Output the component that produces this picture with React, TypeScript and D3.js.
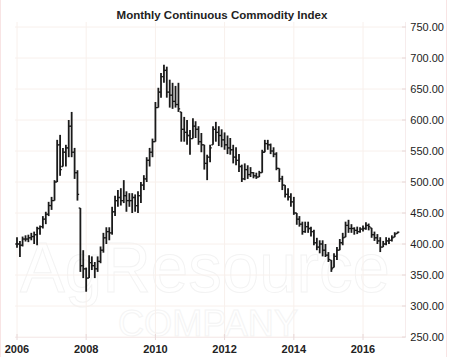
import React from "react";
import * as d3 from "d3";

const title = "Monthly Continuous Commodity Index";
const yTicks = [250, 300, 350, 400, 450, 500, 550, 600, 650, 700, 750];
const xTickYears = [2006, 2008, 2010, 2012, 2014, 2016];
const startYear = 2006;

const highs = [
  411, 405, 412, 414, 415, 418, 420, 428, 430, 445, 452, 468,
  476, 503, 568, 576, 555, 560, 600, 613, 555, 519, 458, 390,
  362, 382, 380, 371, 380, 396, 418, 427, 427, 460, 478, 487,
  490, 503, 485, 482, 482, 480, 485, 500, 511, 540, 555, 570,
  629, 652, 676, 689, 686, 665, 660, 655, 660, 613, 605, 600,
  584, 603, 598, 590, 579, 560, 544, 560, 590, 597, 590, 585,
  580, 575, 571, 560, 556, 545, 528, 530, 527, 524, 516, 515,
  518, 552, 568, 568, 562, 556, 548, 522, 510, 495, 490, 482,
  476, 450, 445, 436, 436, 436, 428, 423, 410, 406, 406, 400,
  387, 374, 385, 395, 408, 418, 436, 439, 432, 427, 428, 427,
  430, 435, 433, 426, 420, 416, 411, 405, 411, 410, 414, 419, 420,
];
const lows = [
  394, 379, 396, 404, 403, 406, 400, 398, 415, 425, 432, 445,
  455, 470, 500, 510, 525, 525, 540, 540, 505, 470, 355, 345,
  323, 345, 358, 345, 355, 369, 386, 400, 406, 415, 445, 460,
  462, 466, 452, 460, 450, 452, 450, 466, 487, 500, 525, 540,
  565, 620, 636, 660, 636, 620, 618, 620, 613, 565, 565, 560,
  544, 570, 571, 560, 548, 520, 503, 532, 560, 565, 558, 556,
  552, 545, 544, 530, 527, 516, 500, 503, 505, 508, 506, 505,
  508, 515, 548, 552, 545, 540, 519, 500, 487, 475, 470, 460,
  447, 431, 428, 415, 418, 418, 412, 398, 390, 385, 380, 379,
  371, 355, 362, 374, 390, 398, 411, 418, 418, 415, 416, 418,
  420, 423, 422, 410, 405, 400, 387, 395, 398, 400, 404, 411, 417,
];
const closes = [
  400, 398, 408, 408, 410, 412, 415, 425, 428, 440, 448, 462,
  470, 500, 560, 520, 548, 555, 590, 548, 515, 480, 365, 360,
  345, 370, 365, 360, 372, 390, 410, 420, 418, 452, 470, 475,
  470, 478, 470, 470, 475, 462, 478, 495, 505, 535, 548, 565,
  620, 645, 670, 680, 645, 640, 630, 625, 618, 585, 580, 575,
  570, 590, 585, 565, 560, 530, 540, 555, 585, 580, 575, 568,
  560, 555, 552, 540, 535, 525, 505, 520, 512, 515, 510, 508,
  515, 548, 562, 560, 550, 545, 522, 505, 495, 480, 476, 468,
  450, 440, 432, 420, 428, 425, 420, 402, 395, 400, 390, 382,
  375, 360, 380, 390, 402, 410, 430, 425, 425, 422, 420, 424,
  425, 430, 428, 415, 410, 405, 395, 400, 405, 406, 410, 416, 419,
];

const W = 450;
const H = 357;
const font = "Arial, 'Liberation Sans', Helvetica, sans-serif";

export default function App() {
  const x = d3
    .scaleTime()
    .domain([new Date(2006, 0, 1), new Date(2016, 0, 1)])
    .range([17, 363]);
  const y = d3.scaleLinear().domain([250, 750]).range([337, 27]);

  const bars = highs.map((h, i) => {
    const l = lows[i];
    const c = closes[i];
    const prev = i === 0 ? closes[0] : closes[i - 1];
    const o = Math.max(l, Math.min(h, prev));
    return { date: new Date(startYear, i, 1), h, l, o, c };
  });

  const gridColor = "#f8f0ec";
  const plotLeft = 15;
  const plotRight = 405;

  return (
    <svg
      width={W}
      height={H}
      style={{ position: "absolute", left: 0, top: 0, background: "#fff" }}
      fontFamily={font}
    >
      <rect x={0} y={0} width={W} height={H} fill="#fff" />
      {/* faint watermark */}
      <text
        x={205}
        y={292}
        textAnchor="middle"
        fontSize={70}
        fill="none"
        stroke="#f3f3f3"
        strokeWidth={1}
        textLength={370}
        lengthAdjust="spacingAndGlyphs"
      >
        AgResource
      </text>
      <text
        x={208}
        y={336}
        textAnchor="middle"
        fontSize={36}
        fill="none"
        stroke="#f4f4f4"
        strokeWidth={1}
        textLength={180}
        lengthAdjust="spacingAndGlyphs"
      >
        COMPANY
      </text>
      {/* grid */}
      {yTicks.map((t) => (
        <line
          key={"gy" + t}
          x1={plotLeft}
          x2={plotRight}
          y1={y(t)}
          y2={y(t)}
          stroke={gridColor}
          strokeWidth={1}
        />
      ))}
      {xTickYears.map((yr) => (
        <line
          key={"gx" + yr}
          x1={x(new Date(yr, 0, 1))}
          x2={x(new Date(yr, 0, 1))}
          y1={22}
          y2={337}
          stroke={gridColor}
          strokeWidth={1}
        />
      ))}
      {/* borders */}
      <line x1={0.5} x2={0.5} y1={0} y2={H} stroke="#f8e4e4" />
      <line x1={446.5} x2={446.5} y1={0} y2={H} stroke="#f8e4e4" />
      <line x1={405.5} x2={405.5} y1={22} y2={337} stroke="#f6ecec" />
      <line x1={plotLeft} x2={plotRight} y1={337.5} y2={337.5} stroke="#f6ecec" />
      {/* y ticks */}
      {yTicks.map((t) => (
        <g key={"yt" + t}>
          <line x1={402} x2={406} y1={y(t)} y2={y(t)} stroke="#e8d8d8" />
          <text
            x={444}
            y={y(t) + 4}
            textAnchor="end"
            fontSize={11}
            fill="#222"
          >
            {d3.format(".2f")(t)}
          </text>
        </g>
      ))}
      {/* x ticks */}
      {xTickYears.map((yr) => {
        const xx = x(new Date(yr, 0, 1));
        return (
          <g key={"xt" + yr}>
            <line x1={xx} x2={xx} y1={334} y2={340} stroke="#e8d8d8" />
            <text
              x={xx}
              y={353}
              textAnchor="middle"
              fontSize={11}
              fontWeight="bold"
              fill="#222"
            >
              {yr}
            </text>
          </g>
        );
      })}
      {/* bars */}
      <g stroke="#1a1a1a" strokeWidth={1.8}>
        {bars.map((b, i) => {
          const xx = x(b.date);
          return (
            <g key={"b" + i}>
              <line x1={xx} x2={xx} y1={y(b.h)} y2={y(b.l)} />
              <line x1={xx - 1.7} x2={xx} y1={y(b.o)} y2={y(b.o)} strokeWidth={1.3} />
              <line x1={xx} x2={xx + 1.7} y1={y(b.c)} y2={y(b.c)} strokeWidth={1.3} />
            </g>
          );
        })}
      </g>
      {/* title */}
      <text
        x={222}
        y={19}
        textAnchor="middle"
        fontSize={11.5}
        fontWeight="bold"
        fill="#222"
      >
        {title}
      </text>
      {/* clipped red mark at bottom */}
      <text x={375} y={366} fontSize={13} fontWeight="bold" fill="#e00000">
        17
      </text>
    </svg>
  );
}
